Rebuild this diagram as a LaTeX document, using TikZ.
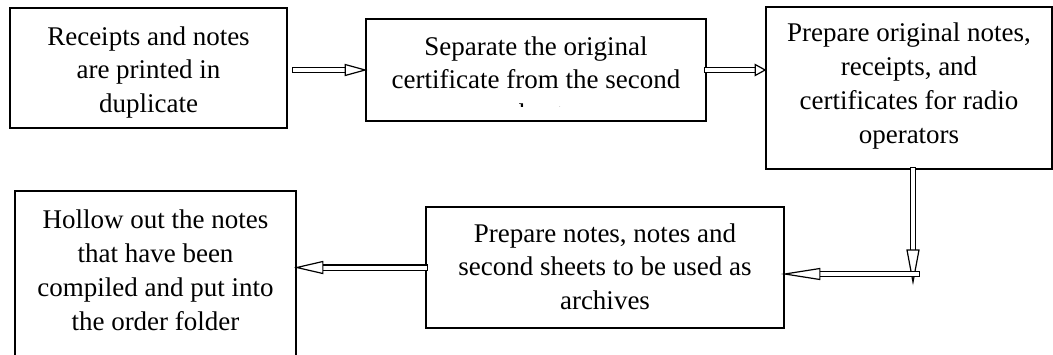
\documentclass[tikz,border=0pt]{standalone}
\usepackage{fontspec}
\setmainfont{Liberation Serif}
\usetikzlibrary{calc}

\tikzset{
  stepbox/.style={draw=black, line width=1.7pt, inner sep=0pt},
  steptext/.style={align=center, inner sep=0pt, text=black,
                   font=\fontsize{27}{33.7}\selectfont},
  shaft/.style={draw=black, double=white, double distance=4pt,
                line width=1.2pt, line cap=rect},
  head/.style={draw=black, fill=white, line width=1.2pt, line join=miter},
}

% hollow block arrow: #1 start, #2 tip, #3 head length, #4 half head width
\newcommand\hollowarrow[4]{%
  \coordinate (hb) at ($(#2)!#3!(#1)$);
  \draw[shaft] (#1) -- (hb);
  \draw[head] (#2) -- ($(hb)!#4!90:(#2)$) -- ($(hb)!#4!-90:(#2)$) -- cycle;
}

\begin{document}
\begin{tikzpicture}[x=1pt,y=-1pt]
\useasboundingbox (0,0) rectangle (1053,354);
\clip (0,0) rectangle (1053,354);

% process boxes
\node[stepbox, minimum width=277pt, minimum height=120pt] (b1) at (148.5,68) {};
\node[stepbox, minimum width=340pt, minimum height=102pt] (b2) at (536,70) {};
\node[stepbox, minimum width=286pt, minimum height=162pt] (b3) at (909,88) {};
\node[stepbox, minimum width=358pt, minimum height=121pt] (b4) at (605,267.5) {};
\node[stepbox, minimum width=281pt, minimum height=169pt] (b5) at (155.5,275.5) {};

% box texts
\node[steptext] (t1) at (148.5,72) {\strut Receipts and notes\\are printed in\\duplicate\strut};
\begin{scope}
  \clip (366,19) rectangle (706,106.5);
  \node[steptext] (t2) at (536,82) {\strut Separate the original\\certificate from the second\\sheet\strut};
\end{scope}
\node[steptext] (t3) at (909,85.8) {\strut Prepare original notes,\\receipts, and\\certificates for radio\\operators\strut};
\node[steptext] (t4) at (605,269) {\strut Prepare notes, notes and\\second sheets to be used as\\archives\strut};
\node[steptext] (t5) at (155.5,272.8) {\strut Hollow out the notes\\that have been\\compiled and put into\\the order folder\strut};

% connectors
\coordinate (drop) at (913,282);
\coordinate (join) at (917,274);
\hollowarrow{$(b1.east |- b2.west)+(7,0)$}{b2.west}{20pt}{5.5pt}
\hollowarrow{b2.east}{b2.east -| b3.west}{10pt}{5.5pt}
\hollowarrow{b3.south -| drop}{drop}{32pt}{6pt}
\hollowarrow{join}{b4.east |- join}{35pt}{5.5pt}
\hollowarrow{b4.west}{b5.east |- b4.west}{26pt}{6pt}
\end{tikzpicture}
\end{document}
